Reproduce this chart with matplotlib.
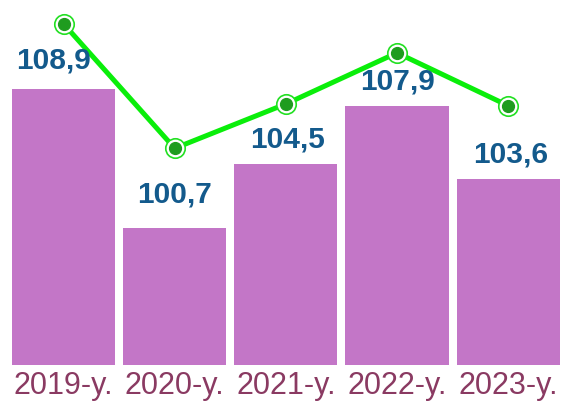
import numpy as np
import matplotlib
matplotlib.use("Agg")
import matplotlib.pyplot as plt

years = ["2019-y.", "2020-y.", "2021-y.", "2022-y.", "2023-y."]
bar_values = [108.9, 100.7, 104.5, 107.9, 103.6]
bar_labels = ["108,9", "100,7", "104,5", "107,9", "103,6"]
line_values = [112.7, 105.4, 108.0, 111.0, 107.9]

# label nudges in points (dx, dy above bar top)
label_dx = [-7.5, 0, 1.5, 0, 1.5]
label_dy = [10, 14.5, 7.5, 7.5, 7.5]

BAR_COLOR = "#c376c7"
LABEL_COLOR = "#135a8c"
TICK_COLOR = "#8a3a62"
LINE_COLOR = "#0aee0a"
DOT_COLOR = "#1f9c1f"

plt.rcParams["font.family"] = ["Liberation Sans", "DejaVu Sans"]

fig = plt.figure(figsize=(5.7, 4.08), dpi=100)
ax = fig.add_axes([0.014, 0.1054, 0.975, 0.8946])

x = np.arange(len(years))
bars = ax.bar(x, bar_values, width=0.927, color=BAR_COLOR, zorder=1)

for i, b in enumerate(bars):
    ax.annotate(bar_labels[i],
                xy=(b.get_x() + b.get_width() / 2, b.get_height()),
                xytext=(label_dx[i], label_dy[i]), textcoords="offset points",
                ha="center", va="bottom", fontsize=21.5, fontweight="bold",
                color=LABEL_COLOR, zorder=4)

ax.plot(x, line_values, color=LINE_COLOR, lw=3.6, zorder=2,
        solid_capstyle="round", clip_on=False)
ax.plot(x, line_values, ls="none", marker="o", ms=14, mfc="white",
        mec="#22e022", mew=1.2, zorder=3, clip_on=False)
ax.plot(x, line_values, ls="none", marker="o", ms=8.5, mfc=DOT_COLOR,
        mec=DOT_COLOR, zorder=3, clip_on=False)

ax.set_xlim(-0.5, len(years) - 0.5)
ax.set_ylim(92.69, 92.69 + 365 / 17.05)
ax.set_xticks(x)
ax.set_xticklabels(years, fontsize=22, color=TICK_COLOR)
ax.tick_params(axis="x", length=0, pad=4)
ax.set_yticks([])
for s in ax.spines.values():
    s.set_visible(False)

fig.savefig("out.png", dpi=100)
